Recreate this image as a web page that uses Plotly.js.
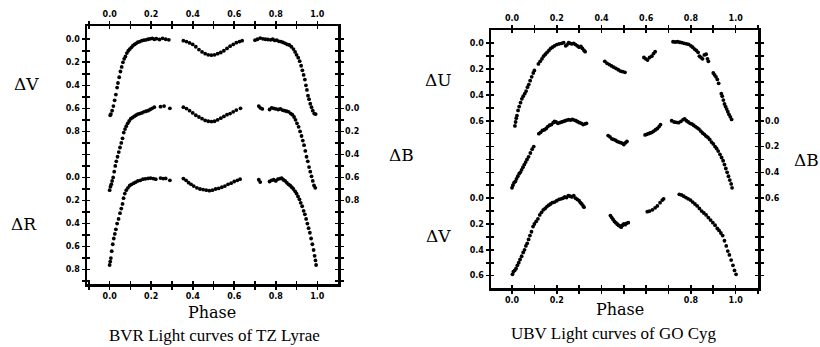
<!DOCTYPE html>
<html>
<head>
<meta charset="utf-8">
<script src="https://cdn.plot.ly/plotly-3.0.1.min.js"></script>
<style>html,body{margin:0;padding:0;background:#fff;}#chart{width:820px;height:347px;}</style>
</head>
<body>
<div id="chart"></div>
<script>
// ---------------- DATA ----------------
const phaseTicks = [-0.1, 0, 0.1, 0.2, 0.3, 0.4, 0.5, 0.6, 0.7, 0.8, 0.9, 1.0, 1.1];
const phaseLabelsAll = ['', '0.0', '', '0.2', '', '0.4', '', '0.6', '', '0.8', '', '1.0', ''];
const phaseLabelsGoBottom = ['', '0.0', '', '0.2', '', '', '', '', '', '0.8', '', '1.0', ''];

const tzLeftTickVals = [0, 0.1, 0.2, 0.3, 0.4, 0.5, 0.6, 0.7, 0.8, 0.9, 1.0, 1.1, 1.2, 1.3, 1.4, 1.5, 1.6, 1.7, 1.8, 1.9, 2.0, 2.1];
const tzLeftTickText = ['0.0', '', '0.2', '', '0.4', '', '0.6', '', '0.8', '', '', '', '0.0', '', '0.2', '', '0.4', '', '0.6', '', '0.8', ''];
const tzRightTickVals = [-0.6, -0.5, -0.4, -0.3, -0.2, -0.1, 0, 0.1, 0.2, 0.3, 0.4, 0.5, 0.6, 0.7, 0.8, 0.9, 1.0, 1.1, 1.2, 1.3, 1.4, 1.5];
const tzRightTickText = ['', '', '', '', '', '', '0.0', '', '0.2', '', '0.4', '', '0.6', '', '0.8', '', '', '', '', '', '', ''];

const goLeftTickVals = [0, 0.1, 0.2, 0.3, 0.4, 0.5, 0.6, 0.7, 0.8, 0.9, 1.0, 1.1, 1.2, 1.3, 1.4, 1.5, 1.6, 1.7, 1.8];
const goLeftTickText = ['0.0', '', '0.2', '', '0.4', '', '0.6', '', '', '', '', '', '0.0', '', '0.2', '', '0.4', '', '0.6'];
const goRightTickVals = [-0.6, -0.5, -0.4, -0.3, -0.2, -0.1, 0, 0.1, 0.2, 0.3, 0.4, 0.5, 0.6, 0.7, 0.8, 0.9, 1.0, 1.1, 1.2];
const goRightTickText = ['', '', '', '', '', '', '0.0', '', '0.2', '', '0.4', '', '0.6', '', '', '', '', '', ''];

// TZ Lyrae ΔV
const tzPhaseV = [0.003,0.006,0.012,0.018,0.024,0.030,0.036,0.040,0.046,0.052,0.058,0.064,0.070,0.076,0.083,0.090,0.097,0.105,0.112,0.120,0.128,0.136,0.145,0.155,0.165,0.175,0.185,0.195,0.205,0.215,0.225,0.240,0.255,0.270,0.285,
  0.355,0.370,0.385,0.400,0.415,0.430,0.445,0.460,0.475,0.490,0.505,0.520,0.535,0.550,0.565,0.580,0.595,0.610,0.625,0.638,
  0.700,0.712,0.725,0.738,0.750,0.762,0.775,0.785,0.795,0.805,0.815,0.825,0.835,0.845,0.855,0.865,0.875,0.885,0.893,0.900,0.908,0.915,0.922,0.928,0.934,0.940,0.945,0.950,0.955,0.960,0.966,0.972,0.978,0.985,0.992];
const tzMagV = [0.66,0.65,0.62,0.58,0.53,0.48,0.42,0.38,0.33,0.28,0.24,0.20,0.17,0.15,0.12,0.10,0.085,0.07,0.055,0.045,0.035,0.025,0.02,0.012,0.008,0.005,0.0,-0.004,-0.008,0.0,-0.005,0.002,-0.008,0.0,0.005,
  0.012,0.02,0.032,0.045,0.065,0.09,0.11,0.125,0.135,0.138,0.135,0.125,0.115,0.10,0.08,0.06,0.045,0.03,0.02,0.012,
  0.008,0.0,-0.01,-0.004,0.0,0.002,0.005,0.0,0.01,0.008,0.018,0.02,0.028,0.035,0.045,0.05,0.065,0.085,0.11,0.135,0.16,0.19,0.23,0.27,0.31,0.35,0.40,0.44,0.49,0.52,0.56,0.59,0.62,0.645,0.65];

// TZ Lyrae ΔB
const tzPhaseB = [0.000,0.004,0.008,0.012,0.017,0.022,0.027,0.032,0.038,0.044,0.050,0.056,0.062,0.068,0.074,0.080,0.087,0.094,0.102,0.110,0.118,0.127,0.136,0.145,0.155,0.165,0.175,0.185,0.195,0.205,0.215,0.245,0.262,0.290,
  0.355,0.370,0.385,0.400,0.415,0.430,0.445,0.460,0.475,0.490,0.505,0.520,0.535,0.550,0.565,0.580,0.595,0.610,0.630,
  0.718,0.725,0.735,0.770,0.780,0.790,0.800,0.812,0.822,0.832,0.842,0.852,0.862,0.872,0.880,0.888,0.895,0.902,0.910,0.917,0.924,0.930,0.936,0.942,0.948,0.954,0.960,0.966,0.972,0.978,0.984,0.990];
const tzMagB = [0.71,0.68,0.66,0.63,0.60,0.55,0.50,0.46,0.42,0.38,0.34,0.30,0.26,0.21,0.18,0.155,0.13,0.11,0.09,0.08,0.07,0.06,0.05,0.045,0.04,0.03,0.025,0.02,0.01,0.0,-0.01,-0.015,-0.02,0.0,
  -0.01,0.002,0.02,0.04,0.06,0.075,0.09,0.105,0.112,0.115,0.112,0.10,0.085,0.07,0.055,0.045,0.03,0.015,0.0,
  -0.02,-0.005,0.005,0.01,-0.005,0.0,0.005,0.01,0.005,0.015,0.02,0.025,0.03,0.045,0.055,0.075,0.10,0.13,0.16,0.20,0.24,0.28,0.32,0.37,0.42,0.46,0.51,0.55,0.59,0.63,0.67,0.69];

// TZ Lyrae ΔR
const tzPhaseR = [0.000,0.003,0.006,0.010,0.015,0.020,0.025,0.030,0.036,0.043,0.050,0.056,0.062,0.067,0.073,0.080,0.088,0.097,0.106,0.116,0.126,0.136,0.148,0.160,0.172,0.185,0.197,0.210,0.222,0.245,0.258,0.270,0.290,
  0.355,0.368,0.380,0.392,0.405,0.420,0.435,0.450,0.465,0.480,0.495,0.510,0.525,0.540,0.555,0.570,0.585,0.600,0.615,0.628,
  0.718,0.725,0.770,0.780,0.790,0.800,0.810,0.820,0.828,0.836,0.845,0.853,0.861,0.869,0.877,0.885,0.893,0.900,0.907,0.914,0.920,0.927,0.934,0.940,0.946,0.952,0.958,0.964,0.970,0.976,0.982,0.987,0.991,0.994];
const tzMagR = [0.76,0.73,0.70,0.64,0.58,0.53,0.49,0.45,0.40,0.36,0.31,0.27,0.23,0.18,0.14,0.11,0.09,0.07,0.06,0.05,0.04,0.03,0.025,0.015,0.012,0.008,0.005,0.01,0.015,0.005,0.01,0.008,0.025,
  0.01,0.025,0.045,0.06,0.075,0.09,0.10,0.105,0.11,0.115,0.11,0.10,0.095,0.085,0.075,0.06,0.05,0.035,0.025,0.015,
  0.02,0.04,0.035,0.025,0.02,0.03,0.015,0.01,0.005,0.02,0.03,0.045,0.06,0.07,0.085,0.10,0.12,0.14,0.165,0.19,0.22,0.25,0.29,0.32,0.36,0.40,0.44,0.48,0.53,0.58,0.63,0.68,0.72,0.76];

// GO Cyg ΔU
const goPhaseU = [0.013,0.016,0.019,0.022,0.027,0.032,0.038,0.044,0.050,0.057,0.063,0.069,0.075,0.081,0.088,0.095,0.100,0.118,0.126,0.134,0.141,0.149,0.157,0.165,0.173,0.181,0.190,0.200,0.210,0.222,0.231,0.240,0.246,0.253,0.260,0.268,0.276,0.284,0.292,0.300,0.308,0.315,0.322,0.327,
  0.415,0.425,0.435,0.445,0.455,0.465,0.475,0.485,0.495,0.505,
  0.590,0.598,0.606,0.615,0.625,0.633,0.640,
  0.720,0.730,0.740,0.750,0.760,0.770,0.780,0.790,0.800,0.808,0.816,0.824,0.832,0.838,0.845,0.852,0.860,0.868,0.874,0.878,
  0.900,0.906,0.912,0.918,0.924,0.936,0.940,0.945,0.950,0.955,0.960,0.965,0.970,0.976,0.982];
const goMagU = [0.64,0.61,0.58,0.56,0.52,0.49,0.46,0.43,0.41,0.39,0.37,0.34,0.32,0.29,0.26,0.23,0.21,0.16,0.14,0.12,0.10,0.085,0.07,0.055,0.04,0.03,0.02,0.01,0.005,0.0,-0.005,0.02,0.012,-0.005,0.0,0.005,0.0,0.01,0.02,0.03,0.025,0.04,0.055,0.065,
  0.14,0.155,0.165,0.175,0.185,0.195,0.205,0.215,0.22,0.225,
  0.11,0.12,0.13,0.11,0.10,0.08,0.065,
  -0.012,-0.01,-0.012,-0.008,-0.005,0.0,0.004,0.008,0.02,0.03,0.045,0.055,0.07,0.10,0.11,0.12,0.09,0.085,0.12,0.14,
  0.23,0.245,0.26,0.28,0.31,0.39,0.41,0.44,0.47,0.49,0.51,0.53,0.55,0.57,0.59];

// GO Cyg ΔB
const goPhaseB = [0.000,0.004,0.009,0.015,0.020,0.026,0.032,0.037,0.043,0.049,0.055,0.061,0.067,0.074,0.082,0.090,0.097,0.120,0.128,0.136,0.145,0.153,0.160,0.168,0.176,0.184,0.190,0.197,0.205,0.213,0.222,0.230,0.238,0.246,0.254,0.262,0.270,0.278,0.286,0.294,0.302,0.310,0.318,0.326,0.333,
  0.430,0.438,0.446,0.454,0.462,0.470,0.478,0.486,0.494,0.500,0.508,0.514,
  0.595,0.602,0.610,0.618,0.626,0.634,0.642,0.650,0.658,0.664,
  0.714,0.725,0.735,0.745,0.755,0.765,0.772,0.780,0.788,0.796,0.804,0.812,0.820,0.828,0.836,0.844,0.852,0.860,0.868,0.876,0.884,0.892,0.900,0.908,0.915,0.922,0.930,0.937,0.944,0.950,0.956,0.962,0.968,0.974,0.980,0.984];
const goMagB = [0.52,0.50,0.48,0.47,0.45,0.43,0.41,0.40,0.38,0.36,0.34,0.32,0.30,0.28,0.25,0.22,0.20,0.10,0.09,0.075,0.07,0.06,0.045,0.035,0.03,0.015,0.005,0.01,0.02,0.015,0.01,0.005,0.0,-0.005,-0.008,-0.005,-0.01,-0.005,0.0,0.008,0.015,0.02,0.03,0.025,0.02,
  0.115,0.125,0.14,0.145,0.15,0.16,0.165,0.17,0.175,0.185,0.17,0.16,
  0.11,0.105,0.10,0.095,0.09,0.08,0.07,0.06,0.045,0.03,
  0.0,0.01,0.012,0.015,0.005,-0.008,-0.015,0.0,0.01,0.02,0.025,0.035,0.045,0.055,0.065,0.08,0.095,0.105,0.12,0.13,0.145,0.165,0.18,0.20,0.215,0.235,0.26,0.285,0.31,0.34,0.37,0.40,0.43,0.46,0.49,0.52];

// GO Cyg ΔV
const goPhaseV = [0.002,0.006,0.012,0.018,0.024,0.030,0.036,0.043,0.050,0.056,0.062,0.068,0.074,0.080,0.087,0.094,0.100,0.108,0.116,0.124,0.132,0.140,0.148,0.156,0.164,0.172,0.180,0.190,0.200,0.210,0.220,0.228,0.236,0.244,0.252,0.260,0.268,0.276,0.284,0.292,0.300,0.306,0.312,0.318,0.322,
  0.440,0.446,0.452,0.458,0.464,0.470,0.476,0.482,0.488,0.494,0.500,0.506,0.512,0.520,
  0.605,0.615,0.628,0.640,0.650,0.662,0.672,0.678,
  0.748,0.758,0.768,0.778,0.788,0.798,0.808,0.818,0.828,0.838,0.848,0.858,0.868,0.878,0.888,0.898,0.908,0.918,0.926,0.934,0.942,0.950,0.958,0.965,0.972,0.980,0.988,0.995,1.002];
const goMagV = [0.59,0.57,0.56,0.545,0.52,0.50,0.475,0.45,0.42,0.40,0.37,0.35,0.32,0.29,0.26,0.22,0.20,0.18,0.16,0.13,0.11,0.09,0.08,0.065,0.055,0.045,0.035,0.03,0.02,0.01,0.005,0.0,-0.01,-0.005,-0.02,-0.015,-0.01,-0.02,0.0,0.01,0.02,0.035,0.045,0.06,0.07,
  0.135,0.15,0.165,0.18,0.19,0.20,0.21,0.215,0.225,0.21,0.20,0.205,0.195,0.19,
  0.105,0.10,0.09,0.075,0.06,0.035,0.015,0.005,
  -0.03,-0.025,-0.015,-0.005,0.005,0.015,0.03,0.045,0.06,0.08,0.10,0.115,0.13,0.15,0.17,0.19,0.21,0.235,0.25,0.27,0.29,0.33,0.37,0.41,0.44,0.48,0.52,0.56,0.59];

// ---------------- LAYOUT ----------------
const W = 820, H = 347;
const B_OFFSET = 0.6, LOW_OFFSET = 1.2;
const P1 = {l: 87, r: 338, t: 26, b: 284, xr: [-0.109, 1.0995], yr: [2.125, -0.115]};
const P2 = {l: 491, r: 758, t: 30, b: 288, xr: [-0.094, 1.1], yr: [1.896, -0.103]};

const tickFont = {family: 'DejaVu Sans', size: 8, weight: 'bold', color: '#000'};
function ax(extra) {
  return Object.assign({
    showgrid: false, zeroline: false, showline: true, linecolor: '#000', linewidth: 2.5,
    ticks: 'outside', ticklen: 3, tickwidth: 1.6, tickcolor: '#000', tickfont: tickFont,
    tickmode: 'array', fixedrange: true
  }, extra);
}
function inner(extra) { return ax(Object.assign({ticks: 'inside', showticklabels: false, showline: false}, extra)); }
function shift(r, d) { return [r[0] - d, r[1] - d]; }

const layout = {
  width: W, height: H, margin: {l: 0, r: 0, t: 0, b: 0},
  paper_bgcolor: '#fff', plot_bgcolor: 'rgba(0,0,0,0)', showlegend: false,
  // ---- Panel 1 (TZ Lyrae) ----
  xaxis: ax({domain: [P1.l / W, P1.r / W], range: P1.xr, anchor: 'y', side: 'bottom', tickvals: phaseTicks, ticktext: phaseLabelsAll}),
  xaxis2: ax({overlaying: 'x', range: P1.xr, anchor: 'y', side: 'top', tickvals: phaseTicks, ticktext: phaseLabelsAll}),
  xaxis3: inner({overlaying: 'x', range: P1.xr, anchor: 'y', side: 'bottom', tickvals: phaseTicks}),
  xaxis4: inner({overlaying: 'x', range: P1.xr, anchor: 'y', side: 'top', tickvals: phaseTicks}),
  yaxis: ax({domain: [1 - P1.b / H, 1 - P1.t / H], range: P1.yr, anchor: 'x', side: 'left', tickvals: tzLeftTickVals, ticktext: tzLeftTickText}),
  yaxis2: ax({overlaying: 'y', range: shift(P1.yr, B_OFFSET), anchor: 'x', side: 'right', tickvals: tzRightTickVals, ticktext: tzRightTickText}),
  yaxis3: inner({overlaying: 'y', range: P1.yr, anchor: 'x', side: 'left', tickvals: tzLeftTickVals}),
  yaxis4: inner({overlaying: 'y', range: shift(P1.yr, B_OFFSET), anchor: 'x', side: 'right', tickvals: tzRightTickVals}),
  yaxis5: {overlaying: 'y', range: shift(P1.yr, LOW_OFFSET), anchor: 'x', visible: false, fixedrange: true},
  // ---- Panel 2 (GO Cyg) ----
  xaxis5: ax({domain: [P2.l / W, P2.r / W], range: P2.xr, anchor: 'y6', side: 'bottom', tickvals: phaseTicks, ticktext: phaseLabelsGoBottom}),
  xaxis6: ax({overlaying: 'x5', range: P2.xr, anchor: 'y6', side: 'top', tickvals: phaseTicks, ticktext: phaseLabelsAll}),
  xaxis7: inner({overlaying: 'x5', range: P2.xr, anchor: 'y6', side: 'bottom', tickvals: phaseTicks}),
  xaxis8: inner({overlaying: 'x5', range: P2.xr, anchor: 'y6', side: 'top', tickvals: phaseTicks}),
  yaxis6: ax({domain: [1 - P2.b / H, 1 - P2.t / H], range: P2.yr, anchor: 'x5', side: 'left', tickvals: goLeftTickVals, ticktext: goLeftTickText}),
  yaxis7: ax({overlaying: 'y6', range: shift(P2.yr, B_OFFSET), anchor: 'x5', side: 'right', tickvals: goRightTickVals, ticktext: goRightTickText}),
  yaxis8: inner({overlaying: 'y6', range: P2.yr, anchor: 'x5', side: 'left', tickvals: goLeftTickVals}),
  yaxis9: inner({overlaying: 'y6', range: shift(P2.yr, B_OFFSET), anchor: 'x5', side: 'right', tickvals: goRightTickVals}),
  yaxis10: {overlaying: 'y6', range: shift(P2.yr, LOW_OFFSET), anchor: 'x5', visible: false, fixedrange: true},
  annotations: []
};

function note(text, px, py, font) {
  layout.annotations.push({text: text, xref: 'paper', yref: 'paper', x: px / W, y: 1 - py / H,
    xanchor: 'center', yanchor: 'middle', showarrow: false, font: font});
}
const labFont = {family: 'DejaVu Serif', size: 17, color: '#000'};
const phaseFont = {family: 'DejaVu Serif', size: 16, color: '#000'};
const capFont = {family: 'Liberation Serif', size: 17, color: '#000'};
note('\u0394V', 26, 84, labFont);
note('\u0394R', 24, 224, labFont);
note('\u0394B', 401, 155, labFont);
note('Phase', 212, 312, phaseFont);
note('BVR Light curves of TZ Lyrae', 214, 335, capFont);
note('\u0394U', 438, 80, labFont);
note('\u0394V', 438, 236, labFont);
note('\u0394B', 806, 160, labFont);
note('Phase', 620, 309, phaseFont);
note('UBV Light curves of GO Cyg', 614, 333, capFont);

const mk = {color: '#000', size: 3.8, symbol: 'circle', line: {width: 0}};
function tr(x, y, xa, ya) { return {type: 'scatter', mode: 'markers', x: x, y: y, xaxis: xa, yaxis: ya, marker: mk, hoverinfo: 'skip'}; }
// invisible copies only register the inward-tick axes with Plotly (axes without traces are not drawn)
function ghost(x, y, xa, ya) { return {type: 'scatter', mode: 'markers', x: x, y: y, xaxis: xa, yaxis: ya, marker: {size: 1, opacity: 0}, hoverinfo: 'skip'}; }
const data = [
  tr(tzPhaseV, tzMagV, 'x', 'y'),
  tr(tzPhaseB, tzMagB, 'x2', 'y2'),
  tr(tzPhaseR, tzMagR, 'x', 'y5'),
  ghost(tzPhaseV, tzMagV, 'x3', 'y3'),
  ghost(tzPhaseB, tzMagB, 'x4', 'y4'),
  tr(goPhaseU, goMagU, 'x5', 'y6'),
  tr(goPhaseB, goMagB, 'x6', 'y7'),
  tr(goPhaseV, goMagV, 'x5', 'y10'),
  ghost(goPhaseU, goMagU, 'x7', 'y8'),
  ghost(goPhaseB, goMagB, 'x8', 'y9')
];
Plotly.newPlot('chart', data, layout, {staticPlot: true, displayModeBar: false});
</script>
</body>
</html>
